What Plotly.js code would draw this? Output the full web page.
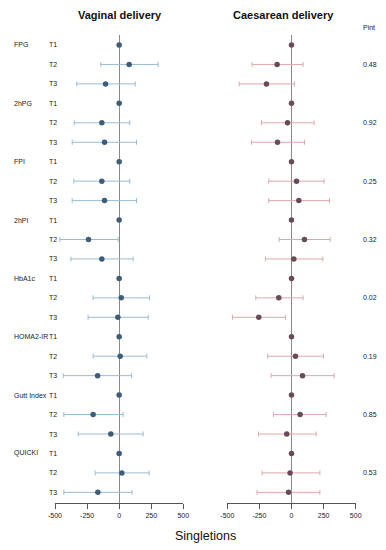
<!DOCTYPE html>
<html>
<head>
<meta charset="utf-8">
<script src="https://cdn.plot.ly/plotly-3.0.1.min.js"></script>
<style>html,body{margin:0;padding:0;background:#fff;}#chart{width:386px;height:550px;}</style>
</head>
<body>
<div id="chart"></div>
<script>
const groups = ['FPG','2hPG','FPI','2hPI','HbA1c','HOMA2-IR','Gutt Index','QUICKI'];
const tertiles = ['T1','T2','T3'];
const pint = ['0.48','0.92','0.25','0.32','0.02','0.19','0.85','0.53'];
const xTicks = [-500,-250,0,250,500];

const vagEst = [0,78,-106, 0,-135,-114, 0,-135,-114, 0,-239,-135, 0,16,-10, 0,8,-168, 0,-203,-65, 0,21,-166];
const vagLo  = [null,-143,-330, null,-350,-366, null,-353,-366, null,-462,-376, null,-203,-242, null,-203,-436, null,-431,-319, null,-187,-431];
const vagHi  = [null,304,125, null,83,135, null,83,135, null,-8,109, null,237,226, null,216,96, null,31,187, null,234,101];

const caeEst = [0,-112,-195, 0,-31,-109, 0,39,57, 0,101,18, 0,-99,-255, 0,31,86, 0,67,-37, 0,-11,-23];
const caeLo  = [null,-307,-408, null,-234,-312, null,-177,-177, null,-96,-203, null,-278,-460, null,-185,-159, null,-140,-257, null,-229,-268];
const caeHi  = [null,90,23, null,176,101, null,254,296, null,301,244, null,90,-47, null,249,332, null,270,192, null,221,221];

const W = 386, H = 550;
const rows = vagEst.map((_, i) => i);
const plus = (est, hi) => est.map((e, i) => hi[i] === null ? null : hi[i] - e);
const minus = (est, lo) => est.map((e, i) => lo[i] === null ? null : e - lo[i]);

const FONT = '"Liberation Sans", Arial, Helvetica, sans-serif';
const TXT = '#222';

function trace(est, lo, hi, xa, mcol, ecol) {
  return {
    type: 'scatter', mode: 'markers', x: est, y: rows, xaxis: xa, yaxis: 'y',
    marker: {color: mcol, size: 5.5, line: {width: 0}},
    error_x: {type: 'data', symmetric: false, array: plus(est, hi), arrayminus: minus(est, lo),
              color: ecol, thickness: 1, width: 2.5},
    hoverinfo: 'x', showlegend: false, cliponaxis: false
  };
}

const data = [
  trace(vagEst, vagLo, vagHi, 'x', '#3e5d7a', '#98bcd8'),
  trace(caeEst, caeLo, caeHi, 'x2', '#6b4a58', '#dfa8a8')
];

// pixel geometry
const rowY0 = 45, rowStep = 19.45, topY = 35, axisY = 503.3;
const yTop = (topY - rowY0) / rowStep, yBot = (axisY - rowY0) / rowStep;

const xaxisBase = {
  range: [-500, 500], tickvals: xTicks, ticktext: xTicks.map(String),
  showgrid: false, showline: true, linecolor: '#555', linewidth: 1,
  ticks: 'outside', ticklen: 5, tickcolor: '#555', tickwidth: 1,
  zeroline: true, zerolinecolor: '#8a8a8a', zerolinewidth: 1,
  tickfont: {family: FONT, size: 7, color: TXT}, fixedrange: true, anchor: 'y'
};

const annotations = [];
groups.forEach((g, gi) => {
  annotations.push({xref: 'paper', yref: 'y', x: 12 / W, y: gi * 3, text: g, showarrow: false,
    xanchor: 'left', yanchor: 'middle', font: {family: FONT, size: 7, color: TXT}});
  tertiles.forEach((t, ti) => {
    annotations.push({xref: 'paper', yref: 'y', x: 47 / W, y: gi * 3 + ti, text: t, showarrow: false,
      xanchor: 'left', yanchor: 'middle', font: {family: FONT, size: 7, color: TXT}});
  });
  annotations.push({xref: 'paper', yref: 'y', x: 369.5 / W, y: gi * 3 + 1, text: pint[gi], showarrow: false,
    xanchor: 'center', yanchor: 'middle', font: {family: FONT, size: 7, color: TXT}});
});
annotations.push({xref: 'paper', yref: 'paper', x: 369 / W, y: 1 - 27.5 / H, text: 'Pint', showarrow: false,
  xanchor: 'center', yanchor: 'middle', font: {family: FONT, size: 7, color: TXT}});
annotations.push({xref: 'paper', yref: 'paper', x: 119.7 / W, y: 1 - 15 / H, text: '<b>Vaginal delivery</b>', showarrow: false,
  xanchor: 'center', yanchor: 'middle', font: {family: FONT, size: 11, color: '#111'}});
annotations.push({xref: 'paper', yref: 'paper', x: 283.7 / W, y: 1 - 15 / H, text: '<b>Caesarean delivery</b>', showarrow: false,
  xanchor: 'center', yanchor: 'middle', font: {family: FONT, size: 11, color: '#111'}});
annotations.push({xref: 'paper', yref: 'paper', x: 205 / W, y: 1 - 536 / H, text: 'Singletions', showarrow: false,
  xanchor: 'center', yanchor: 'middle', font: {family: FONT, size: 12.5, color: '#111'}});

const layout = {
  width: W, height: H, margin: {l: 0, r: 0, t: 0, b: 0},
  paper_bgcolor: '#fff', plot_bgcolor: 'rgba(0,0,0,0)',
  xaxis: Object.assign({}, xaxisBase, {domain: [55 / W, 183.3 / W]}),
  xaxis2: Object.assign({}, xaxisBase, {domain: [227.3 / W, 355.7 / W]}),
  yaxis: {domain: [1 - axisY / H, 1 - topY / H], range: [yBot, yTop], visible: false, fixedrange: true},
  annotations: annotations, showlegend: false
};

Plotly.newPlot('chart', data, layout, {displayModeBar: false, staticPlot: true});
</script>
</body>
</html>
